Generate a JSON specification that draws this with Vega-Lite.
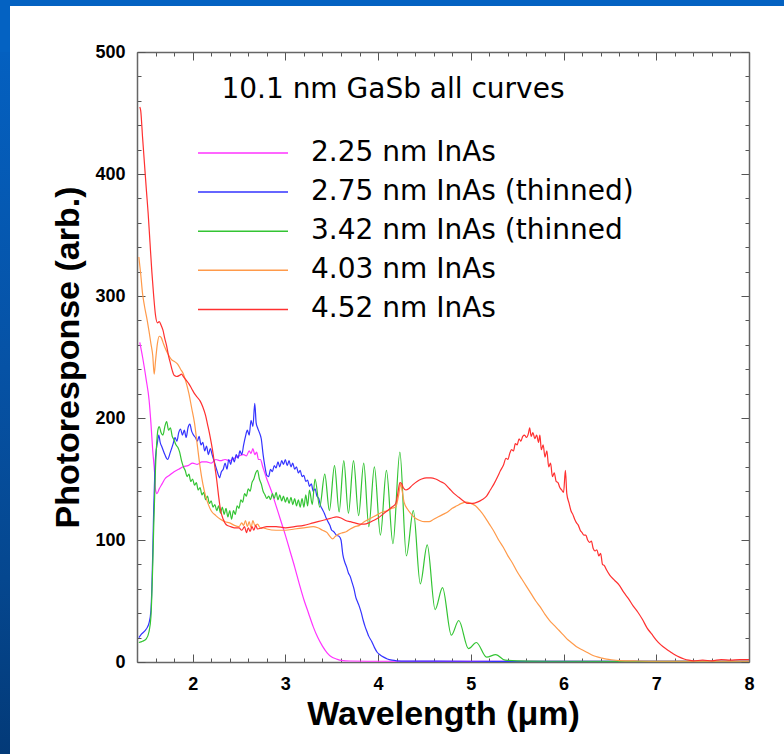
{
  "$schema": "https://vega.github.io/schema/vega-lite/v6.json",
  "background": "white",
  "padding": 0,
  "config": {"view": {"stroke": null}, "font": "Liberation Sans"},
  "columns": 2,
  "spacing": 0,
  "bounds": "flush",
  "concat": [
    {
      "width": 137,
      "height": 52,
      "data": {"values": [{}]},
      "layer": [
        {
          "mark": {
            "type": "rect",
            "fill": {
              "gradient": "linear", "x1": 0, "y1": 0, "x2": 0, "y2": 1,
              "stops": [
                {"offset": 0, "color": "#0462c2"},
                {"offset": 0.115, "color": "#0462c2"},
                {"offset": 0.116, "color": "#ffffff"},
                {"offset": 1, "color": "#ffffff"}
              ]
            }
          },
          "encoding": {}
        },
        {
          "mark": {
            "type": "rect",
            "fill": {
              "gradient": "linear", "x1": 0, "y1": 0, "x2": 1, "y2": 0,
              "stops": [
                {"offset": 0, "color": "#0462c2"},
                {"offset": 0.073, "color": "#0462c2"},
                {"offset": 0.074, "color": "rgba(255,255,255,0)"},
                {"offset": 1, "color": "rgba(255,255,255,0)"}
              ]
            }
          },
          "encoding": {}
        }
      ]
    },
    {
      "width": 647,
      "height": 52,
      "data": {"values": [{}]},
      "mark": {
        "type": "rect",
        "fill": {
          "gradient": "linear", "x1": 0, "y1": 0, "x2": 0, "y2": 1,
          "stops": [
            {"offset": 0, "color": "#0462c2"},
            {"offset": 0.115, "color": "#0462c2"},
            {"offset": 0.116, "color": "#ffffff"},
            {"offset": 1, "color": "#ffffff"}
          ]
        }
      },
      "encoding": {}
    },
    {
      "width": 137,
      "height": 702,
      "data": {"values": [{}]},
      "layer": [
        {
          "mark": {
            "type": "rect",
            "fill": {
              "gradient": "linear", "x1": 0, "y1": 0, "x2": 0, "y2": 1,
              "stops": [
                {"offset": 0, "color": "#0460c0"},
                {"offset": 0.45, "color": "#0652a5"},
                {"offset": 0.75, "color": "#05478f"},
                {"offset": 1, "color": "#033a78"}
              ]
            }
          },
          "encoding": {}
        },
        {
          "mark": {
            "type": "rect",
            "fill": {
              "gradient": "linear", "x1": 0, "y1": 0, "x2": 1, "y2": 0,
              "stops": [
                {"offset": 0, "color": "rgba(255,255,255,0)"},
                {"offset": 0.073, "color": "rgba(255,255,255,0)"},
                {"offset": 0.074, "color": "#ffffff"},
                {"offset": 1, "color": "#ffffff"}
              ]
            }
          },
          "encoding": {}
        }
      ]
    },
    {
      "width": 612,
      "height": 610,
      "resolve": {"axis": {"x": "independent", "y": "independent"}},
      "layer": [
        {
          "data": {
            "values": [
              {"curve": "2.25 nm InAs", "um": 1.43, "resp": 262},
              {"curve": "2.25 nm InAs", "um": 1.46, "resp": 250},
              {"curve": "2.25 nm InAs", "um": 1.5, "resp": 231},
              {"curve": "2.25 nm InAs", "um": 1.53, "resp": 215},
              {"curve": "2.25 nm InAs", "um": 1.55, "resp": 196},
              {"curve": "2.25 nm InAs", "um": 1.57, "resp": 173},
              {"curve": "2.25 nm InAs", "um": 1.59, "resp": 155},
              {"curve": "2.25 nm InAs", "um": 1.6, "resp": 141},
              {"curve": "2.25 nm InAs", "um": 1.615, "resp": 138},
              {"curve": "2.25 nm InAs", "um": 1.64, "resp": 142},
              {"curve": "2.25 nm InAs", "um": 1.67, "resp": 146},
              {"curve": "2.25 nm InAs", "um": 1.7, "resp": 150},
              {"curve": "2.25 nm InAs", "um": 1.75, "resp": 153},
              {"curve": "2.25 nm InAs", "um": 1.8, "resp": 156},
              {"curve": "2.25 nm InAs", "um": 1.85, "resp": 158},
              {"curve": "2.25 nm InAs", "um": 1.9, "resp": 160},
              {"curve": "2.25 nm InAs", "um": 1.95, "resp": 161},
              {"curve": "2.25 nm InAs", "um": 2.0, "resp": 163},
              {"curve": "2.25 nm InAs", "um": 2.05, "resp": 162},
              {"curve": "2.25 nm InAs", "um": 2.1, "resp": 164},
              {"curve": "2.25 nm InAs", "um": 2.15, "resp": 164},
              {"curve": "2.25 nm InAs", "um": 2.2, "resp": 163},
              {"curve": "2.25 nm InAs", "um": 2.25, "resp": 166},
              {"curve": "2.25 nm InAs", "um": 2.3, "resp": 165},
              {"curve": "2.25 nm InAs", "um": 2.35, "resp": 166},
              {"curve": "2.25 nm InAs", "um": 2.4, "resp": 165},
              {"curve": "2.25 nm InAs", "um": 2.45, "resp": 167},
              {"curve": "2.25 nm InAs", "um": 2.5, "resp": 169},
              {"curve": "2.25 nm InAs", "um": 2.55, "resp": 170},
              {"curve": "2.25 nm InAs", "um": 2.58, "resp": 169},
              {"curve": "2.25 nm InAs", "um": 2.61, "resp": 173},
              {"curve": "2.25 nm InAs", "um": 2.63, "resp": 171},
              {"curve": "2.25 nm InAs", "um": 2.65, "resp": 175},
              {"curve": "2.25 nm InAs", "um": 2.67, "resp": 170},
              {"curve": "2.25 nm InAs", "um": 2.69, "resp": 172},
              {"curve": "2.25 nm InAs", "um": 2.71, "resp": 166},
              {"curve": "2.25 nm InAs", "um": 2.73, "resp": 166},
              {"curve": "2.25 nm InAs", "um": 2.76, "resp": 159},
              {"curve": "2.25 nm InAs", "um": 2.8, "resp": 150},
              {"curve": "2.25 nm InAs", "um": 2.85, "resp": 140},
              {"curve": "2.25 nm InAs", "um": 2.9, "resp": 128},
              {"curve": "2.25 nm InAs", "um": 2.95, "resp": 116},
              {"curve": "2.25 nm InAs", "um": 3.0, "resp": 104},
              {"curve": "2.25 nm InAs", "um": 3.05, "resp": 91},
              {"curve": "2.25 nm InAs", "um": 3.1, "resp": 78},
              {"curve": "2.25 nm InAs", "um": 3.15, "resp": 64},
              {"curve": "2.25 nm InAs", "um": 3.2, "resp": 51},
              {"curve": "2.25 nm InAs", "um": 3.25, "resp": 40},
              {"curve": "2.25 nm InAs", "um": 3.3, "resp": 29},
              {"curve": "2.25 nm InAs", "um": 3.35, "resp": 20},
              {"curve": "2.25 nm InAs", "um": 3.4, "resp": 13},
              {"curve": "2.25 nm InAs", "um": 3.45, "resp": 7.5},
              {"curve": "2.25 nm InAs", "um": 3.5, "resp": 4},
              {"curve": "2.25 nm InAs", "um": 3.55, "resp": 2.5},
              {"curve": "2.25 nm InAs", "um": 3.6, "resp": 1.3},
              {"curve": "2.25 nm InAs", "um": 3.7, "resp": 0.8},
              {"curve": "2.25 nm InAs", "um": 4.0, "resp": 0.6},
              {"curve": "2.25 nm InAs", "um": 5.0, "resp": 0.5},
              {"curve": "2.25 nm InAs", "um": 6.0, "resp": 0.6},
              {"curve": "2.25 nm InAs", "um": 7.0, "resp": 0.5},
              {"curve": "2.25 nm InAs", "um": 8.0, "resp": 0.6},

              {"curve": "2.75 nm InAs (thinned)", "um": 1.42, "resp": 20},
              {"curve": "2.75 nm InAs (thinned)", "um": 1.45, "resp": 23},
              {"curve": "2.75 nm InAs (thinned)", "um": 1.5, "resp": 27},
              {"curve": "2.75 nm InAs (thinned)", "um": 1.53, "resp": 32},
              {"curve": "2.75 nm InAs (thinned)", "um": 1.55, "resp": 42},
              {"curve": "2.75 nm InAs (thinned)", "um": 1.56, "resp": 60},
              {"curve": "2.75 nm InAs (thinned)", "um": 1.57, "resp": 90},
              {"curve": "2.75 nm InAs (thinned)", "um": 1.58, "resp": 125},
              {"curve": "2.75 nm InAs (thinned)", "um": 1.59, "resp": 150},
              {"curve": "2.75 nm InAs (thinned)", "um": 1.6, "resp": 168},
              {"curve": "2.75 nm InAs (thinned)", "um": 1.62, "resp": 180},
              {"curve": "2.75 nm InAs (thinned)", "um": 1.635, "resp": 186},
              {"curve": "2.75 nm InAs (thinned)", "um": 1.65, "resp": 180},
              {"curve": "2.75 nm InAs (thinned)", "um": 1.67, "resp": 176},
              {"curve": "2.75 nm InAs (thinned)", "um": 1.7, "resp": 170},
              {"curve": "2.75 nm InAs (thinned)", "um": 1.73, "resp": 166},
              {"curve": "2.75 nm InAs (thinned)", "um": 1.76, "resp": 172},
              {"curve": "2.75 nm InAs (thinned)", "um": 1.79, "resp": 179},
              {"curve": "2.75 nm InAs (thinned)", "um": 1.81, "resp": 184},
              {"curve": "2.75 nm InAs (thinned)", "um": 1.83, "resp": 181},
              {"curve": "2.75 nm InAs (thinned)", "um": 1.85, "resp": 188},
              {"curve": "2.75 nm InAs (thinned)", "um": 1.87, "resp": 191},
              {"curve": "2.75 nm InAs (thinned)", "um": 1.89, "resp": 186},
              {"curve": "2.75 nm InAs (thinned)", "um": 1.91, "resp": 190},
              {"curve": "2.75 nm InAs (thinned)", "um": 1.93, "resp": 184},
              {"curve": "2.75 nm InAs (thinned)", "um": 1.95, "resp": 192},
              {"curve": "2.75 nm InAs (thinned)", "um": 1.97, "resp": 195},
              {"curve": "2.75 nm InAs (thinned)", "um": 1.99, "resp": 189},
              {"curve": "2.75 nm InAs (thinned)", "um": 2.01, "resp": 186},
              {"curve": "2.75 nm InAs (thinned)", "um": 2.03, "resp": 184},
              {"curve": "2.75 nm InAs (thinned)", "um": 2.05, "resp": 181},
              {"curve": "2.75 nm InAs (thinned)", "um": 2.07, "resp": 185},
              {"curve": "2.75 nm InAs (thinned)", "um": 2.09, "resp": 178},
              {"curve": "2.75 nm InAs (thinned)", "um": 2.11, "resp": 180},
              {"curve": "2.75 nm InAs (thinned)", "um": 2.13, "resp": 173},
              {"curve": "2.75 nm InAs (thinned)", "um": 2.15, "resp": 177},
              {"curve": "2.75 nm InAs (thinned)", "um": 2.17, "resp": 170},
              {"curve": "2.75 nm InAs (thinned)", "um": 2.19, "resp": 175},
              {"curve": "2.75 nm InAs (thinned)", "um": 2.21, "resp": 170},
              {"curve": "2.75 nm InAs (thinned)", "um": 2.23, "resp": 165},
              {"curve": "2.75 nm InAs (thinned)", "um": 2.25, "resp": 160},
              {"curve": "2.75 nm InAs (thinned)", "um": 2.27, "resp": 155},
              {"curve": "2.75 nm InAs (thinned)", "um": 2.29, "resp": 151},
              {"curve": "2.75 nm InAs (thinned)", "um": 2.31, "resp": 156},
              {"curve": "2.75 nm InAs (thinned)", "um": 2.33, "resp": 158},
              {"curve": "2.75 nm InAs (thinned)", "um": 2.35, "resp": 163},
              {"curve": "2.75 nm InAs (thinned)", "um": 2.37, "resp": 158},
              {"curve": "2.75 nm InAs (thinned)", "um": 2.39, "resp": 166},
              {"curve": "2.75 nm InAs (thinned)", "um": 2.41, "resp": 162},
              {"curve": "2.75 nm InAs (thinned)", "um": 2.43, "resp": 168},
              {"curve": "2.75 nm InAs (thinned)", "um": 2.45, "resp": 164},
              {"curve": "2.75 nm InAs (thinned)", "um": 2.47, "resp": 170},
              {"curve": "2.75 nm InAs (thinned)", "um": 2.49, "resp": 167},
              {"curve": "2.75 nm InAs (thinned)", "um": 2.51, "resp": 173},
              {"curve": "2.75 nm InAs (thinned)", "um": 2.53, "resp": 170},
              {"curve": "2.75 nm InAs (thinned)", "um": 2.55, "resp": 178},
              {"curve": "2.75 nm InAs (thinned)", "um": 2.57, "resp": 185},
              {"curve": "2.75 nm InAs (thinned)", "um": 2.59, "resp": 190},
              {"curve": "2.75 nm InAs (thinned)", "um": 2.61, "resp": 186},
              {"curve": "2.75 nm InAs (thinned)", "um": 2.63, "resp": 198},
              {"curve": "2.75 nm InAs (thinned)", "um": 2.65, "resp": 193},
              {"curve": "2.75 nm InAs (thinned)", "um": 2.67, "resp": 212},
              {"curve": "2.75 nm InAs (thinned)", "um": 2.685, "resp": 196},
              {"curve": "2.75 nm InAs (thinned)", "um": 2.7, "resp": 192},
              {"curve": "2.75 nm InAs (thinned)", "um": 2.72, "resp": 188},
              {"curve": "2.75 nm InAs (thinned)", "um": 2.74, "resp": 183},
              {"curve": "2.75 nm InAs (thinned)", "um": 2.76, "resp": 170},
              {"curve": "2.75 nm InAs (thinned)", "um": 2.78, "resp": 160},
              {"curve": "2.75 nm InAs (thinned)", "um": 2.8, "resp": 153},
              {"curve": "2.75 nm InAs (thinned)", "um": 2.82, "resp": 152},
              {"curve": "2.75 nm InAs (thinned)", "um": 2.84, "resp": 158},
              {"curve": "2.75 nm InAs (thinned)", "um": 2.86, "resp": 156},
              {"curve": "2.75 nm InAs (thinned)", "um": 2.88, "resp": 161},
              {"curve": "2.75 nm InAs (thinned)", "um": 2.9, "resp": 159},
              {"curve": "2.75 nm InAs (thinned)", "um": 2.92, "resp": 164},
              {"curve": "2.75 nm InAs (thinned)", "um": 2.94, "resp": 160},
              {"curve": "2.75 nm InAs (thinned)", "um": 2.96, "resp": 165},
              {"curve": "2.75 nm InAs (thinned)", "um": 2.98, "resp": 162},
              {"curve": "2.75 nm InAs (thinned)", "um": 3.0, "resp": 166},
              {"curve": "2.75 nm InAs (thinned)", "um": 3.02, "resp": 161},
              {"curve": "2.75 nm InAs (thinned)", "um": 3.04, "resp": 165},
              {"curve": "2.75 nm InAs (thinned)", "um": 3.06, "resp": 160},
              {"curve": "2.75 nm InAs (thinned)", "um": 3.08, "resp": 163},
              {"curve": "2.75 nm InAs (thinned)", "um": 3.1, "resp": 158},
              {"curve": "2.75 nm InAs (thinned)", "um": 3.12, "resp": 160},
              {"curve": "2.75 nm InAs (thinned)", "um": 3.14, "resp": 155},
              {"curve": "2.75 nm InAs (thinned)", "um": 3.16, "resp": 157},
              {"curve": "2.75 nm InAs (thinned)", "um": 3.18, "resp": 152},
              {"curve": "2.75 nm InAs (thinned)", "um": 3.2, "resp": 153},
              {"curve": "2.75 nm InAs (thinned)", "um": 3.22, "resp": 148},
              {"curve": "2.75 nm InAs (thinned)", "um": 3.24, "resp": 149},
              {"curve": "2.75 nm InAs (thinned)", "um": 3.26, "resp": 144},
              {"curve": "2.75 nm InAs (thinned)", "um": 3.28, "resp": 146},
              {"curve": "2.75 nm InAs (thinned)", "um": 3.3, "resp": 140},
              {"curve": "2.75 nm InAs (thinned)", "um": 3.32, "resp": 142},
              {"curve": "2.75 nm InAs (thinned)", "um": 3.34, "resp": 136},
              {"curve": "2.75 nm InAs (thinned)", "um": 3.36, "resp": 134},
              {"curve": "2.75 nm InAs (thinned)", "um": 3.38, "resp": 128},
              {"curve": "2.75 nm InAs (thinned)", "um": 3.4, "resp": 125},
              {"curve": "2.75 nm InAs (thinned)", "um": 3.42, "resp": 122},
              {"curve": "2.75 nm InAs (thinned)", "um": 3.44, "resp": 118},
              {"curve": "2.75 nm InAs (thinned)", "um": 3.46, "resp": 115},
              {"curve": "2.75 nm InAs (thinned)", "um": 3.48, "resp": 112},
              {"curve": "2.75 nm InAs (thinned)", "um": 3.5, "resp": 108},
              {"curve": "2.75 nm InAs (thinned)", "um": 3.52, "resp": 107},
              {"curve": "2.75 nm InAs (thinned)", "um": 3.55, "resp": 104},
              {"curve": "2.75 nm InAs (thinned)", "um": 3.58, "resp": 103},
              {"curve": "2.75 nm InAs (thinned)", "um": 3.6, "resp": 100},
              {"curve": "2.75 nm InAs (thinned)", "um": 3.62, "resp": 88},
              {"curve": "2.75 nm InAs (thinned)", "um": 3.64, "resp": 82},
              {"curve": "2.75 nm InAs (thinned)", "um": 3.66, "resp": 78},
              {"curve": "2.75 nm InAs (thinned)", "um": 3.68, "resp": 73},
              {"curve": "2.75 nm InAs (thinned)", "um": 3.7, "resp": 70},
              {"curve": "2.75 nm InAs (thinned)", "um": 3.72, "resp": 65},
              {"curve": "2.75 nm InAs (thinned)", "um": 3.74, "resp": 60},
              {"curve": "2.75 nm InAs (thinned)", "um": 3.76, "resp": 53},
              {"curve": "2.75 nm InAs (thinned)", "um": 3.78, "resp": 49},
              {"curve": "2.75 nm InAs (thinned)", "um": 3.8, "resp": 45},
              {"curve": "2.75 nm InAs (thinned)", "um": 3.82, "resp": 40},
              {"curve": "2.75 nm InAs (thinned)", "um": 3.84, "resp": 34},
              {"curve": "2.75 nm InAs (thinned)", "um": 3.86, "resp": 29},
              {"curve": "2.75 nm InAs (thinned)", "um": 3.88, "resp": 25},
              {"curve": "2.75 nm InAs (thinned)", "um": 3.9, "resp": 21},
              {"curve": "2.75 nm InAs (thinned)", "um": 3.93, "resp": 17},
              {"curve": "2.75 nm InAs (thinned)", "um": 3.96, "resp": 12},
              {"curve": "2.75 nm InAs (thinned)", "um": 3.99, "resp": 8},
              {"curve": "2.75 nm InAs (thinned)", "um": 4.02, "resp": 6},
              {"curve": "2.75 nm InAs (thinned)", "um": 4.06, "resp": 4},
              {"curve": "2.75 nm InAs (thinned)", "um": 4.1, "resp": 2.5},
              {"curve": "2.75 nm InAs (thinned)", "um": 4.15, "resp": 1.5},
              {"curve": "2.75 nm InAs (thinned)", "um": 4.2, "resp": 1},
              {"curve": "2.75 nm InAs (thinned)", "um": 4.3, "resp": 0.7},
              {"curve": "2.75 nm InAs (thinned)", "um": 5.0, "resp": 0.6},
              {"curve": "2.75 nm InAs (thinned)", "um": 6.0, "resp": 0.5},
              {"curve": "2.75 nm InAs (thinned)", "um": 7.0, "resp": 0.6},
              {"curve": "2.75 nm InAs (thinned)", "um": 8.0, "resp": 0.5},

              {"curve": "3.42 nm InAs (thinned", "um": 1.42, "resp": 16},
              {"curve": "3.42 nm InAs (thinned", "um": 1.46, "resp": 17},
              {"curve": "3.42 nm InAs (thinned", "um": 1.5, "resp": 19},
              {"curve": "3.42 nm InAs (thinned", "um": 1.53, "resp": 25},
              {"curve": "3.42 nm InAs (thinned", "um": 1.55, "resp": 37},
              {"curve": "3.42 nm InAs (thinned", "um": 1.56, "resp": 55},
              {"curve": "3.42 nm InAs (thinned", "um": 1.57, "resp": 80},
              {"curve": "3.42 nm InAs (thinned", "um": 1.58, "resp": 110},
              {"curve": "3.42 nm InAs (thinned", "um": 1.59, "resp": 135},
              {"curve": "3.42 nm InAs (thinned", "um": 1.6, "resp": 160},
              {"curve": "3.42 nm InAs (thinned", "um": 1.61, "resp": 176},
              {"curve": "3.42 nm InAs (thinned", "um": 1.625, "resp": 190},
              {"curve": "3.42 nm InAs (thinned", "um": 1.64, "resp": 193},
              {"curve": "3.42 nm InAs (thinned", "um": 1.66, "resp": 188},
              {"curve": "3.42 nm InAs (thinned", "um": 1.68, "resp": 186},
              {"curve": "3.42 nm InAs (thinned", "um": 1.7, "resp": 193},
              {"curve": "3.42 nm InAs (thinned", "um": 1.72, "resp": 197},
              {"curve": "3.42 nm InAs (thinned", "um": 1.74, "resp": 190},
              {"curve": "3.42 nm InAs (thinned", "um": 1.76, "resp": 192},
              {"curve": "3.42 nm InAs (thinned", "um": 1.78, "resp": 185},
              {"curve": "3.42 nm InAs (thinned", "um": 1.8, "resp": 182},
              {"curve": "3.42 nm InAs (thinned", "um": 1.82, "resp": 178},
              {"curve": "3.42 nm InAs (thinned", "um": 1.84, "resp": 176},
              {"curve": "3.42 nm InAs (thinned", "um": 1.86, "resp": 172},
              {"curve": "3.42 nm InAs (thinned", "um": 1.88, "resp": 165},
              {"curve": "3.42 nm InAs (thinned", "um": 1.9, "resp": 160},
              {"curve": "3.42 nm InAs (thinned", "um": 1.92, "resp": 157},
              {"curve": "3.42 nm InAs (thinned", "um": 1.94, "resp": 152},
              {"curve": "3.42 nm InAs (thinned", "um": 1.96, "resp": 154},
              {"curve": "3.42 nm InAs (thinned", "um": 1.98, "resp": 148},
              {"curve": "3.42 nm InAs (thinned", "um": 2.0, "resp": 150},
              {"curve": "3.42 nm InAs (thinned", "um": 2.02, "resp": 145},
              {"curve": "3.42 nm InAs (thinned", "um": 2.04, "resp": 147},
              {"curve": "3.42 nm InAs (thinned", "um": 2.06, "resp": 141},
              {"curve": "3.42 nm InAs (thinned", "um": 2.08, "resp": 143},
              {"curve": "3.42 nm InAs (thinned", "um": 2.1, "resp": 137},
              {"curve": "3.42 nm InAs (thinned", "um": 2.12, "resp": 139},
              {"curve": "3.42 nm InAs (thinned", "um": 2.14, "resp": 133},
              {"curve": "3.42 nm InAs (thinned", "um": 2.16, "resp": 136},
              {"curve": "3.42 nm InAs (thinned", "um": 2.18, "resp": 130},
              {"curve": "3.42 nm InAs (thinned", "um": 2.2, "resp": 132},
              {"curve": "3.42 nm InAs (thinned", "um": 2.22, "resp": 127},
              {"curve": "3.42 nm InAs (thinned", "um": 2.24, "resp": 129},
              {"curve": "3.42 nm InAs (thinned", "um": 2.26, "resp": 124},
              {"curve": "3.42 nm InAs (thinned", "um": 2.28, "resp": 128},
              {"curve": "3.42 nm InAs (thinned", "um": 2.3, "resp": 122},
              {"curve": "3.42 nm InAs (thinned", "um": 2.32, "resp": 127},
              {"curve": "3.42 nm InAs (thinned", "um": 2.34, "resp": 121},
              {"curve": "3.42 nm InAs (thinned", "um": 2.36, "resp": 126},
              {"curve": "3.42 nm InAs (thinned", "um": 2.38, "resp": 119},
              {"curve": "3.42 nm InAs (thinned", "um": 2.4, "resp": 124},
              {"curve": "3.42 nm InAs (thinned", "um": 2.42, "resp": 117},
              {"curve": "3.42 nm InAs (thinned", "um": 2.44, "resp": 124},
              {"curve": "3.42 nm InAs (thinned", "um": 2.46, "resp": 121},
              {"curve": "3.42 nm InAs (thinned", "um": 2.48, "resp": 128},
              {"curve": "3.42 nm InAs (thinned", "um": 2.5, "resp": 126},
              {"curve": "3.42 nm InAs (thinned", "um": 2.52, "resp": 133},
              {"curve": "3.42 nm InAs (thinned", "um": 2.54, "resp": 131},
              {"curve": "3.42 nm InAs (thinned", "um": 2.56, "resp": 138},
              {"curve": "3.42 nm InAs (thinned", "um": 2.58, "resp": 136},
              {"curve": "3.42 nm InAs (thinned", "um": 2.6, "resp": 142},
              {"curve": "3.42 nm InAs (thinned", "um": 2.62, "resp": 140},
              {"curve": "3.42 nm InAs (thinned", "um": 2.64, "resp": 147},
              {"curve": "3.42 nm InAs (thinned", "um": 2.66, "resp": 150},
              {"curve": "3.42 nm InAs (thinned", "um": 2.68, "resp": 155},
              {"curve": "3.42 nm InAs (thinned", "um": 2.7, "resp": 157},
              {"curve": "3.42 nm InAs (thinned", "um": 2.72, "resp": 150},
              {"curve": "3.42 nm InAs (thinned", "um": 2.74, "resp": 146},
              {"curve": "3.42 nm InAs (thinned", "um": 2.76, "resp": 140},
              {"curve": "3.42 nm InAs (thinned", "um": 2.78, "resp": 137},
              {"curve": "3.42 nm InAs (thinned", "um": 2.8, "resp": 134},
              {"curve": "3.42 nm InAs (thinned", "um": 2.82, "resp": 136},
              {"curve": "3.42 nm InAs (thinned", "um": 2.84, "resp": 133},
              {"curve": "3.42 nm InAs (thinned", "um": 2.86, "resp": 138},
              {"curve": "3.42 nm InAs (thinned", "um": 2.88, "resp": 134},
              {"curve": "3.42 nm InAs (thinned", "um": 2.9, "resp": 139},
              {"curve": "3.42 nm InAs (thinned", "um": 2.92, "resp": 133},
              {"curve": "3.42 nm InAs (thinned", "um": 2.94, "resp": 137},
              {"curve": "3.42 nm InAs (thinned", "um": 2.96, "resp": 132},
              {"curve": "3.42 nm InAs (thinned", "um": 2.98, "resp": 136},
              {"curve": "3.42 nm InAs (thinned", "um": 3.0, "resp": 131},
              {"curve": "3.42 nm InAs (thinned", "um": 3.02, "resp": 135},
              {"curve": "3.42 nm InAs (thinned", "um": 3.04, "resp": 130},
              {"curve": "3.42 nm InAs (thinned", "um": 3.06, "resp": 135},
              {"curve": "3.42 nm InAs (thinned", "um": 3.08, "resp": 129},
              {"curve": "3.42 nm InAs (thinned", "um": 3.1, "resp": 134},
              {"curve": "3.42 nm InAs (thinned", "um": 3.12, "resp": 128},
              {"curve": "3.42 nm InAs (thinned", "um": 3.14, "resp": 133},
              {"curve": "3.42 nm InAs (thinned", "um": 3.16, "resp": 127},
              {"curve": "3.42 nm InAs (thinned", "um": 3.18, "resp": 134},
              {"curve": "3.42 nm InAs (thinned", "um": 3.2, "resp": 127},
              {"curve": "3.42 nm InAs (thinned", "um": 3.22, "resp": 137},
              {"curve": "3.42 nm InAs (thinned", "um": 3.24, "resp": 128},
              {"curve": "3.42 nm InAs (thinned", "um": 3.26, "resp": 141},
              {"curve": "3.42 nm InAs (thinned", "um": 3.29, "resp": 129},
              {"curve": "3.42 nm InAs (thinned", "um": 3.32, "resp": 150},
              {"curve": "3.42 nm InAs (thinned", "um": 3.37, "resp": 127},
              {"curve": "3.42 nm InAs (thinned", "um": 3.425, "resp": 154},
              {"curve": "3.42 nm InAs (thinned", "um": 3.475, "resp": 124},
              {"curve": "3.42 nm InAs (thinned", "um": 3.53, "resp": 161},
              {"curve": "3.42 nm InAs (thinned", "um": 3.58, "resp": 123},
              {"curve": "3.42 nm InAs (thinned", "um": 3.63, "resp": 165},
              {"curve": "3.42 nm InAs (thinned", "um": 3.68, "resp": 122},
              {"curve": "3.42 nm InAs (thinned", "um": 3.735, "resp": 165},
              {"curve": "3.42 nm InAs (thinned", "um": 3.79, "resp": 120},
              {"curve": "3.42 nm InAs (thinned", "um": 3.845, "resp": 163},
              {"curve": "3.42 nm InAs (thinned", "um": 3.9, "resp": 111},
              {"curve": "3.42 nm InAs (thinned", "um": 3.96, "resp": 160},
              {"curve": "3.42 nm InAs (thinned", "um": 4.025, "resp": 104},
              {"curve": "3.42 nm InAs (thinned", "um": 4.09, "resp": 157},
              {"curve": "3.42 nm InAs (thinned", "um": 4.16, "resp": 97},
              {"curve": "3.42 nm InAs (thinned", "um": 4.235, "resp": 172},
              {"curve": "3.42 nm InAs (thinned", "um": 4.305, "resp": 87},
              {"curve": "3.42 nm InAs (thinned", "um": 4.38, "resp": 124},
              {"curve": "3.42 nm InAs (thinned", "um": 4.455, "resp": 64},
              {"curve": "3.42 nm InAs (thinned", "um": 4.53, "resp": 96},
              {"curve": "3.42 nm InAs (thinned", "um": 4.615, "resp": 43},
              {"curve": "3.42 nm InAs (thinned", "um": 4.695, "resp": 61},
              {"curve": "3.42 nm InAs (thinned", "um": 4.79, "resp": 22},
              {"curve": "3.42 nm InAs (thinned", "um": 4.87, "resp": 34},
              {"curve": "3.42 nm InAs (thinned", "um": 4.975, "resp": 11},
              {"curve": "3.42 nm InAs (thinned", "um": 5.06, "resp": 16},
              {"curve": "3.42 nm InAs (thinned", "um": 5.17, "resp": 4},
              {"curve": "3.42 nm InAs (thinned", "um": 5.27, "resp": 6},
              {"curve": "3.42 nm InAs (thinned", "um": 5.37, "resp": 1.5},
              {"curve": "3.42 nm InAs (thinned", "um": 5.5, "resp": 1},
              {"curve": "3.42 nm InAs (thinned", "um": 6.0, "resp": 0.6},
              {"curve": "3.42 nm InAs (thinned", "um": 7.0, "resp": 0.5},
              {"curve": "3.42 nm InAs (thinned", "um": 8.0, "resp": 0.6},

              {"curve": "4.03 nm InAs", "um": 1.42, "resp": 332},
              {"curve": "4.03 nm InAs", "um": 1.44, "resp": 318},
              {"curve": "4.03 nm InAs", "um": 1.46, "resp": 302},
              {"curve": "4.03 nm InAs", "um": 1.48, "resp": 292},
              {"curve": "4.03 nm InAs", "um": 1.51, "resp": 280},
              {"curve": "4.03 nm InAs", "um": 1.53, "resp": 271},
              {"curve": "4.03 nm InAs", "um": 1.55, "resp": 261},
              {"curve": "4.03 nm InAs", "um": 1.57, "resp": 251},
              {"curve": "4.03 nm InAs", "um": 1.585, "resp": 236},
              {"curve": "4.03 nm InAs", "um": 1.6, "resp": 247},
              {"curve": "4.03 nm InAs", "um": 1.62, "resp": 261},
              {"curve": "4.03 nm InAs", "um": 1.64, "resp": 267},
              {"curve": "4.03 nm InAs", "um": 1.66, "resp": 266},
              {"curve": "4.03 nm InAs", "um": 1.68, "resp": 262},
              {"curve": "4.03 nm InAs", "um": 1.7, "resp": 258},
              {"curve": "4.03 nm InAs", "um": 1.73, "resp": 253},
              {"curve": "4.03 nm InAs", "um": 1.77, "resp": 248},
              {"curve": "4.03 nm InAs", "um": 1.81, "resp": 246},
              {"curve": "4.03 nm InAs", "um": 1.84, "resp": 244},
              {"curve": "4.03 nm InAs", "um": 1.87, "resp": 240},
              {"curve": "4.03 nm InAs", "um": 1.9, "resp": 236},
              {"curve": "4.03 nm InAs", "um": 1.93, "resp": 229},
              {"curve": "4.03 nm InAs", "um": 1.96, "resp": 220},
              {"curve": "4.03 nm InAs", "um": 1.99, "resp": 208},
              {"curve": "4.03 nm InAs", "um": 2.02, "resp": 196},
              {"curve": "4.03 nm InAs", "um": 2.05, "resp": 178},
              {"curve": "4.03 nm InAs", "um": 2.08, "resp": 160},
              {"curve": "4.03 nm InAs", "um": 2.11, "resp": 146},
              {"curve": "4.03 nm InAs", "um": 2.14, "resp": 136},
              {"curve": "4.03 nm InAs", "um": 2.17, "resp": 129},
              {"curve": "4.03 nm InAs", "um": 2.2, "resp": 124},
              {"curve": "4.03 nm InAs", "um": 2.25, "resp": 120},
              {"curve": "4.03 nm InAs", "um": 2.3, "resp": 117},
              {"curve": "4.03 nm InAs", "um": 2.35, "resp": 115},
              {"curve": "4.03 nm InAs", "um": 2.4, "resp": 114},
              {"curve": "4.03 nm InAs", "um": 2.45, "resp": 112},
              {"curve": "4.03 nm InAs", "um": 2.5, "resp": 111},
              {"curve": "4.03 nm InAs", "um": 2.53, "resp": 114},
              {"curve": "4.03 nm InAs", "um": 2.55, "resp": 112},
              {"curve": "4.03 nm InAs", "um": 2.57, "resp": 116},
              {"curve": "4.03 nm InAs", "um": 2.59, "resp": 111},
              {"curve": "4.03 nm InAs", "um": 2.61, "resp": 115},
              {"curve": "4.03 nm InAs", "um": 2.63, "resp": 110},
              {"curve": "4.03 nm InAs", "um": 2.65, "resp": 116},
              {"curve": "4.03 nm InAs", "um": 2.67, "resp": 112},
              {"curve": "4.03 nm InAs", "um": 2.7, "resp": 113},
              {"curve": "4.03 nm InAs", "um": 2.73, "resp": 110},
              {"curve": "4.03 nm InAs", "um": 2.76, "resp": 110},
              {"curve": "4.03 nm InAs", "um": 2.8, "resp": 109},
              {"curve": "4.03 nm InAs", "um": 2.9, "resp": 108},
              {"curve": "4.03 nm InAs", "um": 3.0, "resp": 108},
              {"curve": "4.03 nm InAs", "um": 3.1, "resp": 109},
              {"curve": "4.03 nm InAs", "um": 3.2, "resp": 110},
              {"curve": "4.03 nm InAs", "um": 3.3, "resp": 111},
              {"curve": "4.03 nm InAs", "um": 3.35, "resp": 110},
              {"curve": "4.03 nm InAs", "um": 3.4, "resp": 108},
              {"curve": "4.03 nm InAs", "um": 3.45, "resp": 106},
              {"curve": "4.03 nm InAs", "um": 3.48, "resp": 103},
              {"curve": "4.03 nm InAs", "um": 3.51, "resp": 101},
              {"curve": "4.03 nm InAs", "um": 3.54, "resp": 103},
              {"curve": "4.03 nm InAs", "um": 3.58, "resp": 105},
              {"curve": "4.03 nm InAs", "um": 3.62, "resp": 106},
              {"curve": "4.03 nm InAs", "um": 3.66, "resp": 107},
              {"curve": "4.03 nm InAs", "um": 3.7, "resp": 109},
              {"curve": "4.03 nm InAs", "um": 3.75, "resp": 111},
              {"curve": "4.03 nm InAs", "um": 3.8, "resp": 112},
              {"curve": "4.03 nm InAs", "um": 3.85, "resp": 115},
              {"curve": "4.03 nm InAs", "um": 3.9, "resp": 117},
              {"curve": "4.03 nm InAs", "um": 3.95, "resp": 119},
              {"curve": "4.03 nm InAs", "um": 4.0, "resp": 121},
              {"curve": "4.03 nm InAs", "um": 4.05, "resp": 123},
              {"curve": "4.03 nm InAs", "um": 4.1, "resp": 124},
              {"curve": "4.03 nm InAs", "um": 4.15, "resp": 126},
              {"curve": "4.03 nm InAs", "um": 4.19, "resp": 127},
              {"curve": "4.03 nm InAs", "um": 4.22, "resp": 136},
              {"curve": "4.03 nm InAs", "um": 4.245, "resp": 146},
              {"curve": "4.03 nm InAs", "um": 4.26, "resp": 140},
              {"curve": "4.03 nm InAs", "um": 4.28, "resp": 131},
              {"curve": "4.03 nm InAs", "um": 4.32, "resp": 125},
              {"curve": "4.03 nm InAs", "um": 4.36, "resp": 121},
              {"curve": "4.03 nm InAs", "um": 4.4, "resp": 118},
              {"curve": "4.03 nm InAs", "um": 4.45, "resp": 116},
              {"curve": "4.03 nm InAs", "um": 4.5, "resp": 115},
              {"curve": "4.03 nm InAs", "um": 4.55, "resp": 115},
              {"curve": "4.03 nm InAs", "um": 4.6, "resp": 117},
              {"curve": "4.03 nm InAs", "um": 4.65, "resp": 119},
              {"curve": "4.03 nm InAs", "um": 4.7, "resp": 121},
              {"curve": "4.03 nm InAs", "um": 4.75, "resp": 123},
              {"curve": "4.03 nm InAs", "um": 4.8, "resp": 126},
              {"curve": "4.03 nm InAs", "um": 4.85, "resp": 128},
              {"curve": "4.03 nm InAs", "um": 4.9, "resp": 130},
              {"curve": "4.03 nm InAs", "um": 4.95, "resp": 131},
              {"curve": "4.03 nm InAs", "um": 5.0, "resp": 130},
              {"curve": "4.03 nm InAs", "um": 5.05, "resp": 128},
              {"curve": "4.03 nm InAs", "um": 5.1, "resp": 124},
              {"curve": "4.03 nm InAs", "um": 5.15, "resp": 119},
              {"curve": "4.03 nm InAs", "um": 5.2, "resp": 113},
              {"curve": "4.03 nm InAs", "um": 5.25, "resp": 107},
              {"curve": "4.03 nm InAs", "um": 5.3, "resp": 100},
              {"curve": "4.03 nm InAs", "um": 5.35, "resp": 94},
              {"curve": "4.03 nm InAs", "um": 5.4, "resp": 87},
              {"curve": "4.03 nm InAs", "um": 5.45, "resp": 81},
              {"curve": "4.03 nm InAs", "um": 5.5, "resp": 74},
              {"curve": "4.03 nm InAs", "um": 5.55, "resp": 68},
              {"curve": "4.03 nm InAs", "um": 5.6, "resp": 62},
              {"curve": "4.03 nm InAs", "um": 5.65, "resp": 56},
              {"curve": "4.03 nm InAs", "um": 5.7, "resp": 50},
              {"curve": "4.03 nm InAs", "um": 5.75, "resp": 45},
              {"curve": "4.03 nm InAs", "um": 5.8, "resp": 39},
              {"curve": "4.03 nm InAs", "um": 5.85, "resp": 34},
              {"curve": "4.03 nm InAs", "um": 5.9, "resp": 30},
              {"curve": "4.03 nm InAs", "um": 5.95, "resp": 26},
              {"curve": "4.03 nm InAs", "um": 6.0, "resp": 22},
              {"curve": "4.03 nm InAs", "um": 6.05, "resp": 18},
              {"curve": "4.03 nm InAs", "um": 6.1, "resp": 15},
              {"curve": "4.03 nm InAs", "um": 6.15, "resp": 12},
              {"curve": "4.03 nm InAs", "um": 6.2, "resp": 10},
              {"curve": "4.03 nm InAs", "um": 6.25, "resp": 8},
              {"curve": "4.03 nm InAs", "um": 6.3, "resp": 6},
              {"curve": "4.03 nm InAs", "um": 6.35, "resp": 4.5},
              {"curve": "4.03 nm InAs", "um": 6.4, "resp": 3.5},
              {"curve": "4.03 nm InAs", "um": 6.45, "resp": 2.5},
              {"curve": "4.03 nm InAs", "um": 6.5, "resp": 2},
              {"curve": "4.03 nm InAs", "um": 6.6, "resp": 1.2},
              {"curve": "4.03 nm InAs", "um": 6.8, "resp": 0.8},
              {"curve": "4.03 nm InAs", "um": 7.0, "resp": 0.6},
              {"curve": "4.03 nm InAs", "um": 8.0, "resp": 0.6},

              {"curve": "4.52 nm InAs", "um": 1.43, "resp": 455},
              {"curve": "4.52 nm InAs", "um": 1.44, "resp": 452},
              {"curve": "4.52 nm InAs", "um": 1.46, "resp": 430},
              {"curve": "4.52 nm InAs", "um": 1.48, "resp": 409},
              {"curve": "4.52 nm InAs", "um": 1.5, "resp": 388},
              {"curve": "4.52 nm InAs", "um": 1.52, "resp": 368},
              {"curve": "4.52 nm InAs", "um": 1.54, "resp": 344},
              {"curve": "4.52 nm InAs", "um": 1.56, "resp": 320},
              {"curve": "4.52 nm InAs", "um": 1.58, "resp": 300},
              {"curve": "4.52 nm InAs", "um": 1.6, "resp": 284},
              {"curve": "4.52 nm InAs", "um": 1.62, "resp": 278},
              {"curve": "4.52 nm InAs", "um": 1.64, "resp": 279},
              {"curve": "4.52 nm InAs", "um": 1.66, "resp": 276},
              {"curve": "4.52 nm InAs", "um": 1.68, "resp": 272},
              {"curve": "4.52 nm InAs", "um": 1.7, "resp": 265},
              {"curve": "4.52 nm InAs", "um": 1.72, "resp": 259},
              {"curve": "4.52 nm InAs", "um": 1.74, "resp": 251},
              {"curve": "4.52 nm InAs", "um": 1.76, "resp": 245},
              {"curve": "4.52 nm InAs", "um": 1.78, "resp": 239},
              {"curve": "4.52 nm InAs", "um": 1.8, "resp": 235},
              {"curve": "4.52 nm InAs", "um": 1.83, "resp": 234},
              {"curve": "4.52 nm InAs", "um": 1.86, "resp": 235},
              {"curve": "4.52 nm InAs", "um": 1.88, "resp": 236},
              {"curve": "4.52 nm InAs", "um": 1.9, "resp": 234},
              {"curve": "4.52 nm InAs", "um": 1.93, "resp": 231},
              {"curve": "4.52 nm InAs", "um": 1.96, "resp": 228},
              {"curve": "4.52 nm InAs", "um": 1.99, "resp": 224},
              {"curve": "4.52 nm InAs", "um": 2.02, "resp": 220},
              {"curve": "4.52 nm InAs", "um": 2.05, "resp": 217},
              {"curve": "4.52 nm InAs", "um": 2.08, "resp": 214},
              {"curve": "4.52 nm InAs", "um": 2.11, "resp": 209},
              {"curve": "4.52 nm InAs", "um": 2.14, "resp": 202},
              {"curve": "4.52 nm InAs", "um": 2.16, "resp": 195},
              {"curve": "4.52 nm InAs", "um": 2.18, "resp": 188},
              {"curve": "4.52 nm InAs", "um": 2.2, "resp": 180},
              {"curve": "4.52 nm InAs", "um": 2.22, "resp": 171},
              {"curve": "4.52 nm InAs", "um": 2.24, "resp": 160},
              {"curve": "4.52 nm InAs", "um": 2.26, "resp": 149},
              {"curve": "4.52 nm InAs", "um": 2.28, "resp": 136},
              {"curve": "4.52 nm InAs", "um": 2.3, "resp": 125},
              {"curve": "4.52 nm InAs", "um": 2.33, "resp": 117},
              {"curve": "4.52 nm InAs", "um": 2.37, "resp": 112},
              {"curve": "4.52 nm InAs", "um": 2.41, "resp": 111},
              {"curve": "4.52 nm InAs", "um": 2.45, "resp": 110},
              {"curve": "4.52 nm InAs", "um": 2.5, "resp": 110},
              {"curve": "4.52 nm InAs", "um": 2.53, "resp": 108},
              {"curve": "4.52 nm InAs", "um": 2.56, "resp": 111},
              {"curve": "4.52 nm InAs", "um": 2.58, "resp": 106},
              {"curve": "4.52 nm InAs", "um": 2.6, "resp": 110},
              {"curve": "4.52 nm InAs", "um": 2.62, "resp": 107},
              {"curve": "4.52 nm InAs", "um": 2.64, "resp": 111},
              {"curve": "4.52 nm InAs", "um": 2.66, "resp": 108},
              {"curve": "4.52 nm InAs", "um": 2.68, "resp": 112},
              {"curve": "4.52 nm InAs", "um": 2.7, "resp": 109},
              {"curve": "4.52 nm InAs", "um": 2.75, "resp": 110},
              {"curve": "4.52 nm InAs", "um": 2.8, "resp": 111},
              {"curve": "4.52 nm InAs", "um": 2.9, "resp": 111},
              {"curve": "4.52 nm InAs", "um": 3.0, "resp": 110},
              {"curve": "4.52 nm InAs", "um": 3.1, "resp": 111},
              {"curve": "4.52 nm InAs", "um": 3.2, "resp": 112},
              {"curve": "4.52 nm InAs", "um": 3.3, "resp": 114},
              {"curve": "4.52 nm InAs", "um": 3.4, "resp": 116},
              {"curve": "4.52 nm InAs", "um": 3.45, "resp": 117},
              {"curve": "4.52 nm InAs", "um": 3.5, "resp": 118},
              {"curve": "4.52 nm InAs", "um": 3.55, "resp": 119},
              {"curve": "4.52 nm InAs", "um": 3.6, "resp": 118},
              {"curve": "4.52 nm InAs", "um": 3.65, "resp": 116},
              {"curve": "4.52 nm InAs", "um": 3.7, "resp": 115},
              {"curve": "4.52 nm InAs", "um": 3.75, "resp": 114},
              {"curve": "4.52 nm InAs", "um": 3.8, "resp": 113},
              {"curve": "4.52 nm InAs", "um": 3.85, "resp": 113},
              {"curve": "4.52 nm InAs", "um": 3.9, "resp": 114},
              {"curve": "4.52 nm InAs", "um": 3.95, "resp": 116},
              {"curve": "4.52 nm InAs", "um": 4.0, "resp": 118},
              {"curve": "4.52 nm InAs", "um": 4.05, "resp": 121},
              {"curve": "4.52 nm InAs", "um": 4.1, "resp": 124},
              {"curve": "4.52 nm InAs", "um": 4.15, "resp": 127},
              {"curve": "4.52 nm InAs", "um": 4.19, "resp": 130},
              {"curve": "4.52 nm InAs", "um": 4.21, "resp": 137},
              {"curve": "4.52 nm InAs", "um": 4.235, "resp": 147},
              {"curve": "4.52 nm InAs", "um": 4.255, "resp": 146},
              {"curve": "4.52 nm InAs", "um": 4.27, "resp": 143},
              {"curve": "4.52 nm InAs", "um": 4.3, "resp": 141},
              {"curve": "4.52 nm InAs", "um": 4.33, "resp": 142},
              {"curve": "4.52 nm InAs", "um": 4.37, "resp": 145},
              {"curve": "4.52 nm InAs", "um": 4.42, "resp": 148},
              {"curve": "4.52 nm InAs", "um": 4.47, "resp": 150},
              {"curve": "4.52 nm InAs", "um": 4.52, "resp": 151},
              {"curve": "4.52 nm InAs", "um": 4.57, "resp": 151},
              {"curve": "4.52 nm InAs", "um": 4.62, "resp": 150},
              {"curve": "4.52 nm InAs", "um": 4.67, "resp": 148},
              {"curve": "4.52 nm InAs", "um": 4.72, "resp": 146},
              {"curve": "4.52 nm InAs", "um": 4.77, "resp": 142},
              {"curve": "4.52 nm InAs", "um": 4.82, "resp": 138},
              {"curve": "4.52 nm InAs", "um": 4.87, "resp": 135},
              {"curve": "4.52 nm InAs", "um": 4.92, "resp": 132},
              {"curve": "4.52 nm InAs", "um": 4.97, "resp": 130},
              {"curve": "4.52 nm InAs", "um": 5.02, "resp": 130},
              {"curve": "4.52 nm InAs", "um": 5.07, "resp": 131},
              {"curve": "4.52 nm InAs", "um": 5.12, "resp": 133},
              {"curve": "4.52 nm InAs", "um": 5.17, "resp": 136},
              {"curve": "4.52 nm InAs", "um": 5.21, "resp": 141},
              {"curve": "4.52 nm InAs", "um": 5.25, "resp": 146},
              {"curve": "4.52 nm InAs", "um": 5.29, "resp": 152},
              {"curve": "4.52 nm InAs", "um": 5.32, "resp": 157},
              {"curve": "4.52 nm InAs", "um": 5.35, "resp": 161},
              {"curve": "4.52 nm InAs", "um": 5.38, "resp": 167},
              {"curve": "4.52 nm InAs", "um": 5.4, "resp": 166},
              {"curve": "4.52 nm InAs", "um": 5.42, "resp": 171},
              {"curve": "4.52 nm InAs", "um": 5.44, "resp": 174},
              {"curve": "4.52 nm InAs", "um": 5.46, "resp": 173},
              {"curve": "4.52 nm InAs", "um": 5.48, "resp": 179},
              {"curve": "4.52 nm InAs", "um": 5.5, "resp": 178},
              {"curve": "4.52 nm InAs", "um": 5.52, "resp": 183},
              {"curve": "4.52 nm InAs", "um": 5.54, "resp": 181},
              {"curve": "4.52 nm InAs", "um": 5.56, "resp": 185},
              {"curve": "4.52 nm InAs", "um": 5.58, "resp": 186},
              {"curve": "4.52 nm InAs", "um": 5.6, "resp": 184},
              {"curve": "4.52 nm InAs", "um": 5.62, "resp": 187},
              {"curve": "4.52 nm InAs", "um": 5.635, "resp": 192},
              {"curve": "4.52 nm InAs", "um": 5.65, "resp": 185},
              {"curve": "4.52 nm InAs", "um": 5.67, "resp": 188},
              {"curve": "4.52 nm InAs", "um": 5.69, "resp": 183},
              {"curve": "4.52 nm InAs", "um": 5.71, "resp": 186},
              {"curve": "4.52 nm InAs", "um": 5.73, "resp": 180},
              {"curve": "4.52 nm InAs", "um": 5.745, "resp": 186},
              {"curve": "4.52 nm InAs", "um": 5.76, "resp": 174},
              {"curve": "4.52 nm InAs", "um": 5.78, "resp": 178},
              {"curve": "4.52 nm InAs", "um": 5.8, "resp": 168},
              {"curve": "4.52 nm InAs", "um": 5.82, "resp": 173},
              {"curve": "4.52 nm InAs", "um": 5.84, "resp": 160},
              {"curve": "4.52 nm InAs", "um": 5.86, "resp": 163},
              {"curve": "4.52 nm InAs", "um": 5.88, "resp": 152},
              {"curve": "4.52 nm InAs", "um": 5.9, "resp": 155},
              {"curve": "4.52 nm InAs", "um": 5.92, "resp": 148},
              {"curve": "4.52 nm InAs", "um": 5.94, "resp": 147},
              {"curve": "4.52 nm InAs", "um": 5.96, "resp": 143},
              {"curve": "4.52 nm InAs", "um": 5.98, "resp": 141},
              {"curve": "4.52 nm InAs", "um": 6.0, "resp": 139},
              {"curve": "4.52 nm InAs", "um": 6.02, "resp": 157},
              {"curve": "4.52 nm InAs", "um": 6.035, "resp": 138},
              {"curve": "4.52 nm InAs", "um": 6.06, "resp": 130},
              {"curve": "4.52 nm InAs", "um": 6.08, "resp": 124},
              {"curve": "4.52 nm InAs", "um": 6.1, "resp": 121},
              {"curve": "4.52 nm InAs", "um": 6.12, "resp": 117},
              {"curve": "4.52 nm InAs", "um": 6.14, "resp": 114},
              {"curve": "4.52 nm InAs", "um": 6.16, "resp": 112},
              {"curve": "4.52 nm InAs", "um": 6.18, "resp": 108},
              {"curve": "4.52 nm InAs", "um": 6.2, "resp": 106},
              {"curve": "4.52 nm InAs", "um": 6.22, "resp": 104},
              {"curve": "4.52 nm InAs", "um": 6.24, "resp": 104},
              {"curve": "4.52 nm InAs", "um": 6.26, "resp": 100},
              {"curve": "4.52 nm InAs", "um": 6.28, "resp": 98},
              {"curve": "4.52 nm InAs", "um": 6.3, "resp": 99},
              {"curve": "4.52 nm InAs", "um": 6.32, "resp": 93},
              {"curve": "4.52 nm InAs", "um": 6.34, "resp": 91},
              {"curve": "4.52 nm InAs", "um": 6.36, "resp": 92},
              {"curve": "4.52 nm InAs", "um": 6.38, "resp": 87},
              {"curve": "4.52 nm InAs", "um": 6.4, "resp": 89},
              {"curve": "4.52 nm InAs", "um": 6.42, "resp": 80},
              {"curve": "4.52 nm InAs", "um": 6.44, "resp": 79},
              {"curve": "4.52 nm InAs", "um": 6.46, "resp": 76},
              {"curve": "4.52 nm InAs", "um": 6.5, "resp": 71},
              {"curve": "4.52 nm InAs", "um": 6.55, "resp": 67},
              {"curve": "4.52 nm InAs", "um": 6.6, "resp": 63},
              {"curve": "4.52 nm InAs", "um": 6.65, "resp": 57},
              {"curve": "4.52 nm InAs", "um": 6.7, "resp": 52},
              {"curve": "4.52 nm InAs", "um": 6.75, "resp": 46},
              {"curve": "4.52 nm InAs", "um": 6.8, "resp": 41},
              {"curve": "4.52 nm InAs", "um": 6.85, "resp": 35},
              {"curve": "4.52 nm InAs", "um": 6.9, "resp": 28},
              {"curve": "4.52 nm InAs", "um": 6.95, "resp": 23},
              {"curve": "4.52 nm InAs", "um": 7.0, "resp": 18},
              {"curve": "4.52 nm InAs", "um": 7.05, "resp": 14},
              {"curve": "4.52 nm InAs", "um": 7.1, "resp": 11},
              {"curve": "4.52 nm InAs", "um": 7.15, "resp": 8.5},
              {"curve": "4.52 nm InAs", "um": 7.2, "resp": 6},
              {"curve": "4.52 nm InAs", "um": 7.25, "resp": 4},
              {"curve": "4.52 nm InAs", "um": 7.3, "resp": 2.5},
              {"curve": "4.52 nm InAs", "um": 7.35, "resp": 1.5},
              {"curve": "4.52 nm InAs", "um": 7.4, "resp": 1},
              {"curve": "4.52 nm InAs", "um": 7.5, "resp": 1.5},
              {"curve": "4.52 nm InAs", "um": 7.6, "resp": 1},
              {"curve": "4.52 nm InAs", "um": 7.7, "resp": 2},
              {"curve": "4.52 nm InAs", "um": 7.8, "resp": 1.5},
              {"curve": "4.52 nm InAs", "um": 7.9, "resp": 2},
              {"curve": "4.52 nm InAs", "um": 8.0, "resp": 2}
            ]
          },
          "mark": {"type": "line", "strokeWidth": 1.2, "interpolate": "monotone", "clip": true},
          "encoding": {
            "x": {
              "field": "um",
              "type": "quantitative",
              "scale": {"domain": [1.4, 8], "nice": false, "zero": false},
              "axis": {
                "orient": "bottom",
                "values": [1.4, 1.6, 1.8, 2, 2.2, 2.4, 2.6, 2.8, 3, 3.2, 3.4, 3.6, 3.8, 4, 4.2, 4.4, 4.6, 4.8, 5, 5.2, 5.4, 5.6, 5.8, 6, 6.2, 6.4, 6.6, 6.8, 7, 7.2, 7.4, 7.6, 7.8, 8],
                "labelExpr": "datum.value % 1 === 0 ? format(datum.value, 'd') : ''",
                "tickSize": {"condition": {"test": "datum.value % 1 === 0", "value": -8}, "value": -4},
                "tickColor": "#555555",
                "tickWidth": 1,
                "domainColor": "#666666",
                "domainWidth": 1.5,
                "grid": false,
                "labelPadding": 21,
                "labelFont": "Liberation Sans",
                "labelFontWeight": "bold",
                "labelFontSize": 18,
                "labelColor": "black",
                "labelFlush": false,
                "labelOverlap": false,
                "title": "Wavelength (μm)",
                "titleFont": "Liberation Sans",
                "titleFontWeight": "bold",
                "titleFontSize": 34,
                "titleColor": "black",
                "titlePadding": 0
              }
            },
            "y": {
              "field": "resp",
              "type": "quantitative",
              "scale": {"domain": [0, 500], "nice": false},
              "axis": {
                "orient": "left",
                "values": [0, 20, 40, 60, 80, 100, 120, 140, 160, 180, 200, 220, 240, 260, 280, 300, 320, 340, 360, 380, 400, 420, 440, 460, 480, 500],
                "labelExpr": "datum.value % 100 === 0 ? format(datum.value, 'd') : ''",
                "tickSize": {"condition": {"test": "datum.value % 100 === 0", "value": -8}, "value": -4},
                "tickColor": "#555555",
                "tickWidth": 1,
                "domainColor": "#666666",
                "domainWidth": 1.5,
                "grid": false,
                "labelPadding": 20,
                "labelFont": "Liberation Sans",
                "labelFontWeight": "bold",
                "labelFontSize": 18,
                "labelColor": "black",
                "labelFlush": false,
                "labelOverlap": false,
                "title": "Photoresponse (arb.)",
                "titleFont": "Liberation Sans",
                "titleFontWeight": "bold",
                "titleFontSize": 34,
                "titleColor": "black",
                "titlePadding": 9
              }
            },
            "color": {
              "field": "curve",
              "type": "nominal",
              "scale": {
                "domain": ["2.25 nm InAs", "2.75 nm InAs (thinned)", "3.42 nm InAs (thinned", "4.03 nm InAs", "4.52 nm InAs"],
                "range": ["#ff33ff", "#3333ff", "#33c433", "#ff9a4a", "#ff3030"]
              },
              "legend": {
                "orient": "none",
                "legendX": 197,
                "legendY": 142,
                "direction": "vertical",
                "title": null,
                "padding": 0,
                "symbolType": "stroke",
                "symbolSize": 8100,
                "symbolStrokeWidth": 1.5,
                "clipHeight": 22,
                "rowPadding": 11.1,
                "labelFont": "DejaVu Sans",
                "labelFontSize": 28,
                "labelColor": "black",
                "labelOffset": 22,
                "labelLimit": 0
              }
            }
          }
        },
        {
          "data": {"values": [{}]},
          "mark": {"type": "text", "align": "left", "baseline": "middle", "font": "DejaVu Sans", "fontSize": 28, "color": "black"},
          "encoding": {
            "x": {
              "datum": 2.31,
              "type": "quantitative",
              "axis": {
                "orient": "top",
                "values": [1.4, 1.6, 1.8, 2, 2.2, 2.4, 2.6, 2.8, 3, 3.2, 3.4, 3.6, 3.8, 4, 4.2, 4.4, 4.6, 4.8, 5, 5.2, 5.4, 5.6, 5.8, 6, 6.2, 6.4, 6.6, 6.8, 7, 7.2, 7.4, 7.6, 7.8, 8],
                "labels": false,
                "title": null,
                "grid": false,
                "tickSize": {"condition": {"test": "datum.value % 1 === 0", "value": -8}, "value": -4},
                "tickColor": "#555555",
                "tickWidth": 1,
                "domainColor": "#666666",
                "domainWidth": 1.5,
                "minExtent": 0,
                "maxExtent": 0
              }
            },
            "y": {
              "datum": 469,
              "type": "quantitative",
              "axis": {
                "orient": "right",
                "values": [0, 20, 40, 60, 80, 100, 120, 140, 160, 180, 200, 220, 240, 260, 280, 300, 320, 340, 360, 380, 400, 420, 440, 460, 480, 500],
                "labels": false,
                "title": null,
                "grid": false,
                "tickSize": {"condition": {"test": "datum.value % 100 === 0", "value": -8}, "value": -4},
                "tickColor": "#555555",
                "tickWidth": 1,
                "domainColor": "#666666",
                "domainWidth": 1.5,
                "minExtent": 0,
                "maxExtent": 0
              }
            },
            "text": {"value": "10.1 nm GaSb all curves"}
          }
        }
      ]
    }
  ]
}
